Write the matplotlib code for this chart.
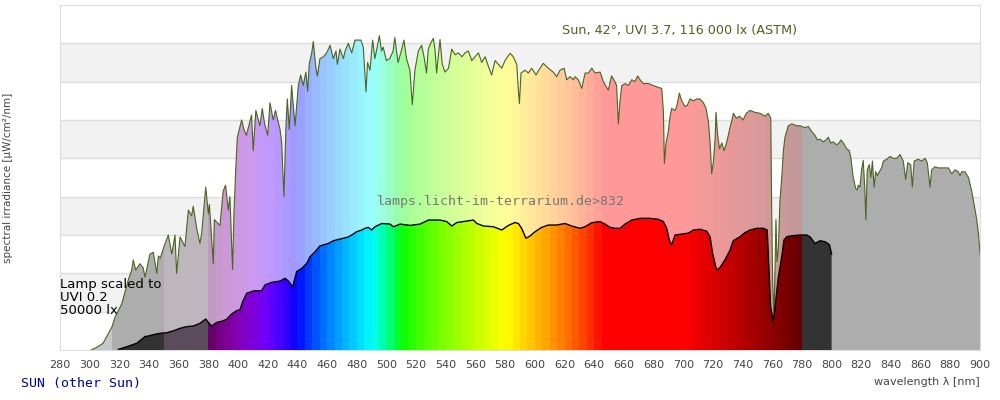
import numpy as np
import matplotlib
matplotlib.use("Agg")
import matplotlib.pyplot as plt
from matplotlib.patches import Polygon

# sun spectrum (ASTM, 42 deg), uW/cm2/nm
sun_wl = [
    301, 305, 309, 315, 317, 321.6, 326, 328.3, 329.4, 331, 333.9, 336, 337.3, 340.6, 342.9,
    345.2, 346.3, 347.6, 350.8, 353, 355.3, 357.5, 358.6, 360.9, 364.2, 366.5, 368.7, 369.8,
    372, 374.3, 375.5, 378.2, 380, 380.7, 383.3, 384, 387.8, 390, 391.6, 393.4, 394.5, 396.3,
    397.2, 398.3, 399.5, 402.4, 404, 405.6, 409.1, 410.2, 412, 414.7, 416.3, 417.9, 420,
    421.5, 423.7, 425.2, 428.3, 429.4, 430.9, 432.3, 433.2, 434.5, 436.1, 438.4, 440.6,
    442.2, 443.9, 445.7, 446.9, 448, 449.6, 450.7, 452.3, 453.4, 455.2, 457.5, 459.7, 462,
    464.2, 466, 466.9, 468.7, 471, 472.1, 474.3, 476.6, 478.8, 481, 482.8, 484.4, 486.2,
    487.3, 488.9, 490.7, 492.2, 494, 495.2, 496.7, 497.8, 500, 502.2, 504.5, 505.6, 507.8,
    510, 511.8, 513.5, 515.8, 517.4, 519.2, 521.5, 523.7, 525.3, 527, 528.2, 529.8, 531.6,
    532.7, 533.8, 536.1, 537.6, 539.5, 541.8, 544, 546.3, 548.5, 550.8, 553, 555.2, 557.5,
    559.7, 562, 564.2, 566.5, 568.7, 570.9, 573.2, 575.4, 577.7, 579.9, 583.3, 585.5, 587.8,
    589, 589.6, 590.7, 593.4, 595.6, 597.9, 600.8, 603.5, 605.7, 609.1, 612.4, 614.7, 617,
    619.7, 621.5, 623.7, 626, 627.1, 629.3, 631.6, 633.9, 636.1, 638.4, 640.6, 644, 646.2,
    649.5, 651.7, 653.3, 655.1, 656.3, 657.4, 658.6, 660.8, 663, 665.3, 667.5, 669.3, 670.9,
    673.1, 676.5, 679.9, 683.2, 685.5, 686.6, 687.3, 688.4, 690, 691.1, 692.2, 694.5, 695.6,
    697.4, 699, 701.2, 702.8, 704.6, 706.8, 709.1, 711.3, 713.6, 715.4, 717, 718.1, 719.2,
    720.4, 721.5, 722.1, 723.1, 724.4, 726, 727.6, 729.4, 731.2, 732.7, 733.8, 735.8, 738,
    740.3, 742.5, 745, 748.3, 751.7, 755.1, 757.3, 759, 759.6, 760.3, 761.2, 761.9, 762.5,
    763.2, 764.1, 765.2, 766.4, 767.5, 768.6, 770.8, 773.1, 776.5, 778.7, 782, 784.3, 786.6,
    788.8, 790.4, 792.2, 794.4, 796.2, 797.8, 799.3, 801.1, 803.4, 805, 806.3, 807.9, 810.1,
    811.9, 813, 814.6, 816.2, 817.3, 818, 819.1, 820.2, 821.3, 822.4, 823.1, 824, 825.4,
    826.5, 827.5, 828.6, 829.7, 830.8, 832.2, 833.7, 834.9, 837.1, 839.4, 841.6, 843.9,
    846.1, 848.3, 849.9, 851.3, 853.3, 854.4, 855.6, 858.5, 860.7, 863, 864.5, 866.3, 867.4,
    869.7, 871.9, 874.2, 876.4, 878.7, 880.9, 883.2, 885.4, 886.5, 887.7, 889.9, 892.2,
    894.4, 896.7, 897.8, 898.9, 899.6, 900,
]
sun_val = [
    0, 1.5, 3.5, 12, 17, 24, 36.5, 41.7, 47, 41.7, 45, 43, 38, 50, 51,
    40, 49, 48, 55.6, 60, 50, 60, 40, 59, 54, 73, 70, 75,
    64, 55.6, 61, 85, 71, 76, 45, 68, 65, 83, 86, 73, 80, 42,
    70, 92, 111, 120, 115, 112, 122.6, 104, 125, 117, 126, 118, 112,
    129, 120, 125, 115, 108, 80, 117, 131, 115, 138, 117, 138,
    143.5, 138, 145, 135, 149.6, 154.8, 161, 148, 143, 152, 153, 155, 159,
    152, 156, 149, 157, 152, 156, 160, 155, 161.7, 161.7, 161.7, 158, 134.7,
    150, 146, 161.7, 152, 159, 164, 156, 158, 151, 152, 156, 163, 150,
    156, 161.7, 152, 146, 128, 146, 156, 159, 153, 144.5, 157, 160, 162.6,
    157, 144.5, 162, 149, 145, 147, 157, 154, 155, 153, 155, 156, 151,
    153, 155, 150, 153, 148, 143.5, 151, 149, 147, 151, 154.8, 153, 149,
    134.7, 128.6, 144.5, 146, 144.5, 147, 143.5, 147, 149.6, 147, 145, 142.6, 146,
    147, 141, 142.6, 141, 142.6, 141, 136.5, 144.5, 144.5, 147, 144.5, 145, 140,
    135.6, 143, 141, 138, 118, 130, 138, 139, 138, 141, 140, 143, 141,
    139, 139, 138, 137, 136.5, 125, 97.4, 107.8, 114, 121.7, 126, 125, 127,
    134, 130, 127, 127.8, 131, 130, 131, 131, 129, 126, 119, 108, 92,
    99, 110, 124, 113, 105, 108, 104, 108.6, 115, 119.6, 123.5, 121, 122,
    120, 123.5, 125, 124, 123.5, 122, 123.5, 121, 73, 34.8, 17.4, 44, 68,
    46, 53, 78, 90, 104, 111, 117, 118, 117, 117, 116, 116.6, 114,
    112, 109.6, 110, 108.6, 109.6, 111, 108, 108.6, 107, 108, 109.6, 108, 105,
    104, 100, 90, 84.3, 83.5, 86, 85, 94, 99, 83.5, 68, 94, 96.7,
    90, 98.6, 85, 93, 91, 93, 95, 98.6, 99.5, 101, 100, 100,
    102, 98.6, 89, 97.7, 96.7, 85, 98.6, 99.5, 98.6, 100, 97.7, 85, 94,
    95.6, 95, 95, 95, 95, 92, 94, 93, 91, 93, 93, 90,
    83, 73, 68, 61, 54.8, 50,
]

# lamp spectrum (scaled to UVI 0.2 / 50000 lx)
lamp_wl = [
    319.3, 325, 331.7, 337.3, 339.5, 342.9, 347.4, 351.9, 356.4, 360.9, 365.4, 369.8, 374.3,
    378.2, 380, 382.2, 385.6, 389, 392.3, 395.7, 399, 401.3, 403, 405.8, 410.3, 415.9, 418.2,
    422.7, 428.3, 431.7, 433.9, 436.8, 439.5, 442.9, 446.3, 448.5, 451.9, 455.2, 460.8,
    464.2, 467.6, 470.9, 474.3, 476.6, 479.9, 483.3, 485.6, 487.8, 490, 492.3, 496.8, 502.4,
    504.7, 509.2, 515.9, 522.7, 528.2, 536.1, 540.6, 544, 547.4, 551.9, 558.6, 560.9, 565.4,
    572.1, 577.7, 582.2, 586.6, 588.9, 591.1, 594, 596.8, 600.1, 604.6, 609.1, 614.7, 620.3,
    624.8, 630.4, 633.8, 638.3, 643.9, 647.3, 650.7, 654, 657.4, 660.8, 665.3, 670.9, 677.6,
    683.2, 686.6, 688.9, 690.6, 692.2, 694.5, 699, 703.5, 706.8, 711.3, 715.8, 718.1, 719.8,
    722.5, 724.8, 728.1, 731.5, 733.7, 738.2, 741.6, 745, 749.5, 754, 756.6, 757.8, 758.9,
    760.7, 761.9, 764.1, 766.4, 767.9, 769.8, 773.1, 778.7, 783.2, 785.5, 788.8, 792.2,
    795.6, 798.5, 800,
]
lamp_val = [
    0.3, 1.7, 3.5, 7, 7.3, 8, 8.7, 9, 10, 11.3, 12.2, 12.5, 13.9,
    16.2, 14.4, 12.5, 14.4, 15, 16, 18.8, 20.5, 21, 25, 29.6, 30.8, 31, 34,
    35.3, 36, 37.4, 36, 33, 40.9, 42.6, 45.2, 48.7, 51.3, 54.3, 55.6,
    57, 57.7, 58.3, 59, 60, 61.7, 62.6, 63.5, 64, 62.6, 64.3, 66, 65.7,
    64.3, 65.7, 65, 65.7, 67.8, 67.8, 67, 64.7, 66.5, 67, 67.8, 66, 64.7,
    64.3, 62.6, 65, 66.5, 66, 63.5, 58.3, 59.5, 61.7, 64, 65.2, 65.2, 66,
    64.7, 63.5, 64.3, 66.4, 67, 65.7, 64, 63.5, 63.5, 65.7, 67.8, 68.7, 68.7,
    68.2, 67, 63.5, 57.4, 54.8, 60, 60.5, 61, 62.6, 63, 62, 59.1, 50.4,
    41.7, 43, 47, 52, 57, 59.1, 61.2, 62.6, 63.5, 63.5, 62.6, 41.7, 22.6,
    14.8, 22.6, 38, 48.7, 57.4, 59.1, 59.6, 60, 60, 59, 55.6, 57,
    56.5, 55, 50,
]

xticks = list(range(280, 901, 20))


def base_color(wl):
    # wavelength -> rgb (Bruton), grey outside the visible range
    if wl < 315:
        return (0.46, 0.46, 0.46)
    if wl < 350:
        return (0.2, 0.2, 0.2)
    if wl < 380:
        return (0.36, 0.30, 0.36)
    if wl >= 780:
        return (0.2, 0.2, 0.2)
    if wl < 440:
        r, g, b = -(wl - 440) / 60, 0.0, 1.0
    elif wl < 490:
        r, g, b = 0.0, (wl - 440) / 50, 1.0
    elif wl < 510:
        r, g, b = 0.0, 1.0, -(wl - 510) / 20
    elif wl < 580:
        r, g, b = (wl - 510) / 70, 1.0, 0.0
    elif wl < 645:
        r, g, b = 1.0, -(wl - 645) / 65, 0.0
    else:
        r, g, b = 1.0, 0.0, 0.0
    if wl < 420:
        f = 0.3 + 0.7 * (wl - 380) / 40
    elif wl > 700:
        f = 0.3 + 0.7 * (780 - wl) / 80
    else:
        f = 1.0
    return tuple((c * f) ** 0.8 for c in (r, g, b))


cols = np.arange(280, 900)
strip = np.array([base_color((c // 5) * 5 + 2.5) for c in cols])
lamp_img = strip[np.newaxis, :, :]
sun_img = (0.4 * strip + 0.6)[np.newaxis, :, :]

fig = plt.figure(figsize=(10, 4), dpi=100)
ax = fig.add_axes([0.06, 0.125, 0.92, 0.8625])
ax.set_xlim(280, 900)
ax.set_ylim(0, 180)

for lo in (20, 60, 100, 140):
    ax.axhspan(lo, lo + 20, color="#f2f2f2", zorder=0, lw=0)
for y in range(20, 180, 20):
    ax.axhline(y, color="#dddddd", lw=1, zorder=0.5)


def colored_fill(wl, val, img, z):
    verts = [(wl[0], 0)] + list(zip(wl, val)) + [(wl[-1], 0)]
    patch = Polygon(verts, closed=True, facecolor="none", edgecolor="none")
    ax.add_patch(patch)
    im = ax.imshow(img, extent=(280, 900, 0, 180), aspect="auto",
                   interpolation="nearest", origin="lower", zorder=z)
    im.set_clip_path(patch)


colored_fill(sun_wl, sun_val, sun_img, 1)
ax.plot(sun_wl, sun_val, color="#4b6420", lw=0.8, zorder=2)
colored_fill(lamp_wl, lamp_val, lamp_img, 3)
ax.plot(lamp_wl, lamp_val, color="black", lw=1.0, zorder=4)

ax.set_xticks(xticks)
ax.set_yticks([])
ax.tick_params(axis="x", length=0, pad=7, labelsize=8, labelcolor="#444444")
for s in ax.spines.values():
    s.set_color("#dddddd")

fig.text(0.68, 0.923, "Sun, 42°, UVI 3.7, 116 000 lx (ASTM)", color="#4b6420",
         fontsize=9.2, ha="center", va="center")
fig.text(0.501, 0.4975, "lamps.licht-im-terrarium.de>832", color="#777777",
         family="DejaVu Sans Mono", fontsize=9.5, ha="center", va="center", zorder=6)
fig.text(0.0595, 1 - 278 / 400, "Lamp scaled to\nUVI 0.2\n50000 lx", color="black",
         fontsize=9.5, ha="left", va="top", linespacing=1.0, zorder=6)
fig.text(0.0207, 0.0425, "SUN (other Sun)", color="#0000a0", family="DejaVu Sans Mono",
         fontsize=9.5, ha="left", va="center")
fig.text(0.9795, 0.0457, "wavelength λ [nm]", color="#444444", fontsize=8,
         ha="right", va="center")
fig.text(0.008, 0.556, "spectral irradiance [µW/cm²/nm]", color="#444444", fontsize=7.5,
         rotation=90, ha="center", va="center")

fig.savefig("out.png", dpi=100)
